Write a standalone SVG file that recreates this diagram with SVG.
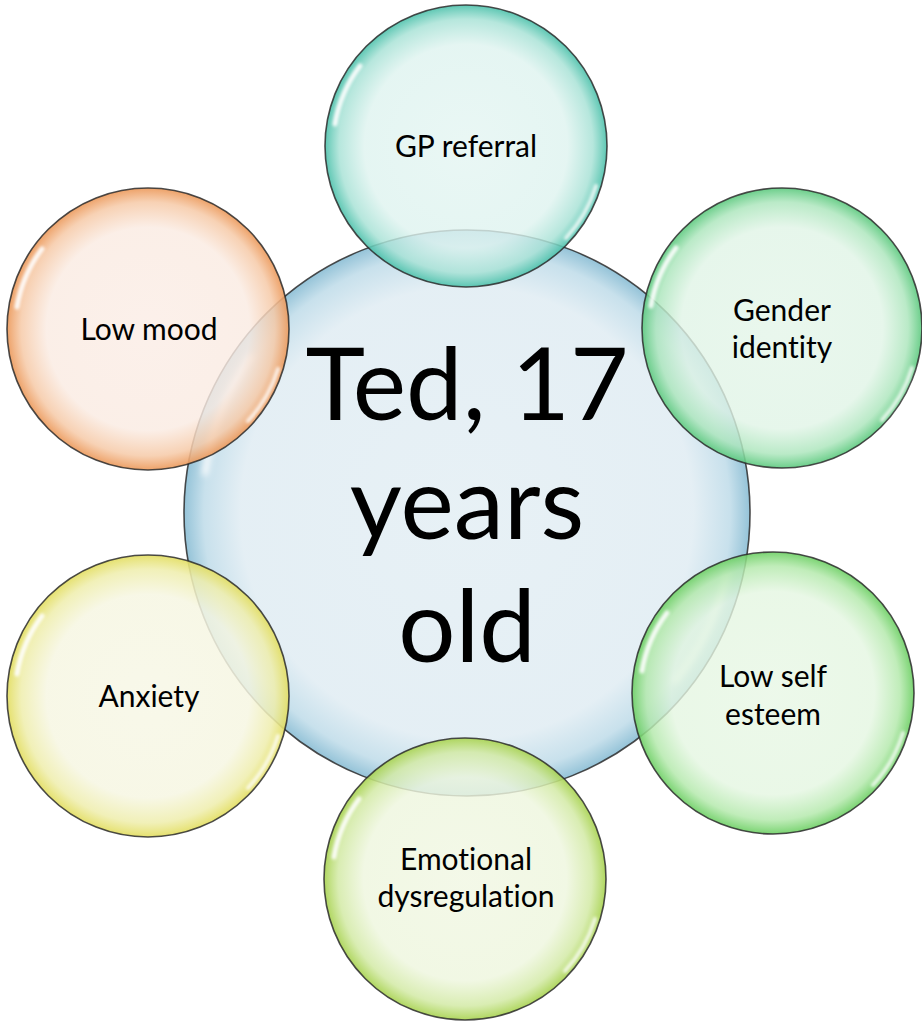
<svg xmlns="http://www.w3.org/2000/svg" width="922" height="1022" viewBox="0 0 922 1022">
  <style>
    .ring { stroke: #2b2b2b; stroke-width: 1.6; stroke-opacity: 0.85; }
    .label { font-family: Lato, "Noto Sans", "DejaVu Sans", sans-serif; font-size: 30px; fill: #000; text-anchor: middle; font-variant-ligatures: none; }
    .title { font-family: Lato, "Noto Sans", "DejaVu Sans", sans-serif; font-size: 101px; fill: #000; text-anchor: middle; font-variant-ligatures: none; }
    .shine { fill: none; stroke: #ffffff; stroke-linecap: round; filter: url(#soft); }
  </style>
  <defs>
    <filter id="soft" x="-20%" y="-20%" width="140%" height="140%">
      <feGaussianBlur stdDeviation="1.6"/>
    </filter>
    <radialGradient id="gBlue" cx="50%" cy="50%" r="50%">
      <stop offset="0" stop-color="#e6f0f5" stop-opacity="0.95"/>
      <stop offset="0.8" stop-color="#e3eef4" stop-opacity="0.95"/>
      <stop offset="0.93" stop-color="#c5dfeb" stop-opacity="0.95"/>
      <stop offset="1" stop-color="#8fc0d6" stop-opacity="0.95"/>
    </radialGradient>
    <radialGradient id="gTeal" cx="50%" cy="50%" r="50%">
      <stop offset="0" stop-color="#e4f5f2" stop-opacity="0.8"/>
      <stop offset="0.72" stop-color="#def3ef" stop-opacity="0.8"/>
      <stop offset="0.9" stop-color="#a8e2d6" stop-opacity="0.84"/>
      <stop offset="1" stop-color="#4cc1ab" stop-opacity="0.9"/>
    </radialGradient>
    <radialGradient id="gOrange" cx="50%" cy="50%" r="50%">
      <stop offset="0" stop-color="#fbede6" stop-opacity="0.82"/>
      <stop offset="0.72" stop-color="#faebe2" stop-opacity="0.82"/>
      <stop offset="0.9" stop-color="#f6caa8" stop-opacity="0.86"/>
      <stop offset="1" stop-color="#ec9a5c" stop-opacity="0.92"/>
    </radialGradient>
    <radialGradient id="gGreen" cx="50%" cy="50%" r="50%">
      <stop offset="0" stop-color="#e4f5e9" stop-opacity="0.8"/>
      <stop offset="0.72" stop-color="#e0f4e6" stop-opacity="0.8"/>
      <stop offset="0.9" stop-color="#ade6bd" stop-opacity="0.84"/>
      <stop offset="1" stop-color="#5cc97e" stop-opacity="0.9"/>
    </radialGradient>
    <radialGradient id="gLime" cx="50%" cy="50%" r="50%">
      <stop offset="0" stop-color="#e8f7e5" stop-opacity="0.8"/>
      <stop offset="0.72" stop-color="#e4f6e1" stop-opacity="0.8"/>
      <stop offset="0.9" stop-color="#b4e9ac" stop-opacity="0.84"/>
      <stop offset="1" stop-color="#6ccf63" stop-opacity="0.9"/>
    </radialGradient>
    <radialGradient id="gYellowGreen" cx="50%" cy="50%" r="50%">
      <stop offset="0" stop-color="#f1f7e3" stop-opacity="0.82"/>
      <stop offset="0.72" stop-color="#eef6de" stop-opacity="0.82"/>
      <stop offset="0.9" stop-color="#d3eaa6" stop-opacity="0.86"/>
      <stop offset="1" stop-color="#a9d352" stop-opacity="0.92"/>
    </radialGradient>
    <radialGradient id="gYellow" cx="50%" cy="50%" r="50%">
      <stop offset="0" stop-color="#f7f7e6" stop-opacity="0.85"/>
      <stop offset="0.72" stop-color="#f6f6e2" stop-opacity="0.85"/>
      <stop offset="0.9" stop-color="#efeeae" stop-opacity="0.88"/>
      <stop offset="1" stop-color="#e3de62" stop-opacity="0.92"/>
    </radialGradient>
    <!-- glossy highlights for a bubble of radius 141 centred on the origin -->
    <g id="gloss141">
      <path class="shine" stroke-width="5" stroke-opacity="0.9" d="M -131 -22 A 133 133 0 0 1 -106 -80"/>
      <path class="shine" stroke-width="4" stroke-opacity="0.8" d="M 130 40 A 135 135 0 0 1 100 92"/>
    </g>
  </defs>

  <!-- central bubble -->
  <g id="node-centre">
    <circle class="ring" cx="467" cy="513" r="283" fill="url(#gBlue)"/>
    <g transform="translate(467 513) scale(2.0)">
      <path class="shine" stroke-width="3" stroke-opacity="0.9" d="M -131 -20 A 133 133 0 0 1 -108 -78"/>
      <path class="shine" stroke-width="3" stroke-opacity="0.8" d="M 130 30 A 133 133 0 0 1 104 84"/>
    </g>
    <text class="title" x="467" y="420">Ted, 17</text>
    <text class="title" x="467" y="539">years</text>
    <text class="title" x="467" y="662">old</text>
  </g>

  <g id="node-gp-referral">
    <circle class="ring" cx="466" cy="146" r="141" fill="url(#gTeal)"/>
    <use href="#gloss141" transform="translate(466 146)"/>
    <text class="label" x="466" y="157">GP referral</text>
  </g>

  <g id="node-gender-identity">
    <circle class="ring" cx="782" cy="328" r="140" fill="url(#gGreen)"/>
    <use href="#gloss141" transform="translate(782 328)"/>
    <text class="label" x="782" y="321">Gender</text>
    <text class="label" x="782" y="358">identity</text>
  </g>

  <g id="node-low-self-esteem">
    <circle class="ring" cx="773" cy="693" r="141" fill="url(#gLime)"/>
    <use href="#gloss141" transform="translate(773 693)"/>
    <text class="label" x="773" y="687">Low self</text>
    <text class="label" x="773" y="725">esteem</text>
  </g>

  <g id="node-emotional-dysregulation">
    <circle class="ring" cx="465" cy="879" r="141" fill="url(#gYellowGreen)"/>
    <use href="#gloss141" transform="translate(465 879)"/>
    <text class="label" x="466" y="870">Emotional</text>
    <text class="label" x="466" y="907">dysregulation</text>
  </g>

  <g id="node-anxiety">
    <circle class="ring" cx="148" cy="696" r="141" fill="url(#gYellow)"/>
    <use href="#gloss141" transform="translate(148 696)"/>
    <text class="label" x="149" y="707">Anxiety</text>
  </g>

  <g id="node-low-mood">
    <circle class="ring" cx="148" cy="329" r="141" fill="url(#gOrange)"/>
    <use href="#gloss141" transform="translate(148 329)"/>
    <text class="label" x="149" y="340">Low mood</text>
  </g>
</svg>
